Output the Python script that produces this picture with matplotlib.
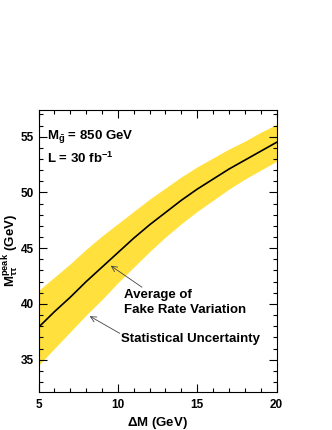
import numpy as np
import matplotlib.pyplot as plt
from matplotlib.ticker import MultipleLocator

plt.rcParams['font.family'] = ['Liberation Sans', 'DejaVu Sans']
plt.rcParams['font.weight'] = 'bold'
plt.rcParams['mathtext.fontset'] = 'custom'
plt.rcParams['mathtext.rm'] = 'Liberation Sans:bold'
plt.rcParams['mathtext.it'] = 'Liberation Sans:bold'
plt.rcParams['mathtext.bf'] = 'Liberation Sans:bold'

# values
dm = [5, 6, 7, 8, 9, 10, 11, 12, 13, 14, 15, 16, 17, 18, 19, 20]
m_peak = [37.9, 39.3, 40.6, 42.0, 43.3, 44.6, 45.9, 47.1,
          48.2, 49.3, 50.3, 51.2, 52.1, 52.9, 53.7, 54.5]
m_upper = [41.2, 42.4, 43.6, 44.9, 46.1, 47.2, 48.3, 49.4,
           50.4, 51.4, 52.3, 53.1, 53.9, 54.6, 55.4, 56.1]
m_lower = [34.5, 36.0, 37.5, 39.0, 40.4, 41.9, 43.3, 44.7,
           46.0, 47.2, 48.3, 49.3, 50.3, 51.2, 52.0, 52.8]

fig = plt.figure(figsize=(3.32, 4.30), dpi=100)
ax = fig.add_axes([0.116, 0.0884, 0.717, 0.6558])

ax.fill_between(dm, m_lower, m_upper, color="#FFE03C", lw=0)
ax.plot(dm, m_peak, color="black", lw=1.2)

ax.set_xlim(5, 20)
ax.set_ylim(32.1, 57.4)
ax.xaxis.set_major_locator(MultipleLocator(5))
ax.xaxis.set_minor_locator(MultipleLocator(1))
ax.yaxis.set_major_locator(MultipleLocator(5))
ax.yaxis.set_minor_locator(MultipleLocator(1))
ax.tick_params(which="both", direction="in", top=True, right=True,
               labelsize=8.5, width=0.8)
ax.tick_params(which="major", length=6)
ax.tick_params(which="minor", length=3)
ax.tick_params(axis="x", pad=5)
for lab in ax.get_xticklabels() + ax.get_yticklabels():
    lab.set_fontweight("bold")
for s in ax.spines.values():
    s.set_linewidth(0.8)

ax.set_xlabel(r"$\Delta$M (GeV)", fontsize=9.5, fontweight="bold")
ax.xaxis.set_label_coords(0.5, -0.08)
ax.set_ylabel(r"M$_{\tau\tau}^{peak}$ (GeV)", fontsize=9.5, fontweight="bold")
ax.yaxis.set_label_coords(-0.072, 0.5)

ax.text(0.035, 0.905, r"M$_{\tilde{g}}$ = 850 GeV", transform=ax.transAxes,
        fontsize=9.5, fontweight="bold", va="center")
ax.text(0.035, 0.83, r"L = 30 fb$^{-1}$", transform=ax.transAxes,
        fontsize=9.5, fontweight="bold", va="center")

ax.text(10.4, 40.1, "Average of\nFake Rate Variation", fontsize=9.5,
        fontweight="bold", va="center", ha="left", linespacing=1.3)
ax.text(10.2, 36.85, "Statistical Uncertainty", fontsize=9.5,
        fontweight="bold", va="center", ha="left")

arrow = dict(arrowstyle="->", color="#444444", lw=0.6, shrinkA=0, shrinkB=0)
ax.annotate("", xy=(9.55, 43.43), xytext=(11.52, 41.5), arrowprops=arrow)
ax.annotate("", xy=(8.23, 38.9), xytext=(10.12, 37.36), arrowprops=arrow)

fig.savefig("out.png", dpi=100)
